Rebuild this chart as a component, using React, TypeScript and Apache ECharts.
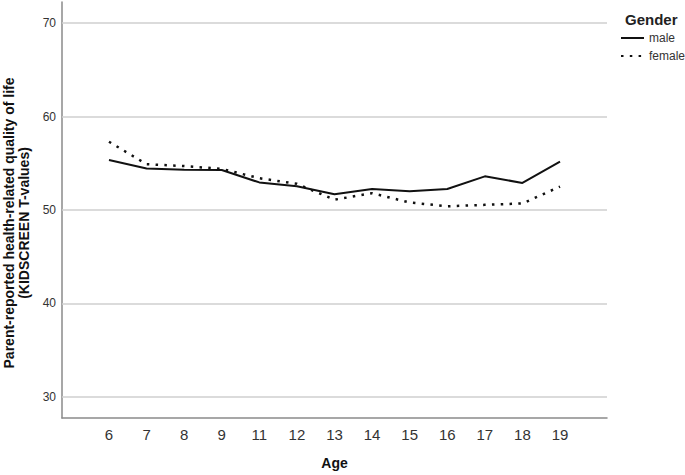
import React, { useEffect, useRef } from "react";
import * as echarts from "echarts";

const ages = ["6", "7", "8", "9", "11", "12", "13", "14", "15", "16", "17", "18", "19"];
const maleValues = [55.35, 54.45, 54.3, 54.28, 52.95, 52.55, 51.68, 52.25, 52.0, 52.25, 53.6, 52.9, 55.17];
const femaleValues = [57.3, 54.9, 54.7, 54.4, 53.4, 52.8, 51.1, 51.8, 50.8, 50.4, 50.55, 50.7, 52.5];
const yTicks = [30, 40, 50, 60, 70];

const FONT = "Liberation Sans, Arial, sans-serif";

export default function App() {
  const ref = useRef<HTMLDivElement>(null);
  useEffect(() => {
    if (!ref.current) return;
    const chart = echarts.init(ref.current, null, { renderer: "svg" });
    const toPts = (vals: number[]) => vals.map((v, i) => [i, v]);
    chart.setOption({
      animation: false,
      backgroundColor: "#ffffff",
      textStyle: { fontFamily: FONT },
      title: {
        text: "Gender",
        left: 620,
        top: 7,
        textStyle: { fontFamily: FONT, fontSize: 15, fontWeight: "bold", color: "#222" },
      },
      legend: {
        orient: "vertical",
        left: 615,
        top: 27,
        padding: 5,
        itemWidth: 23,
        itemHeight: 10,
        itemGap: 6,
        itemStyle: { opacity: 0, borderWidth: 0 },
        textStyle: { fontFamily: FONT, fontSize: 12, color: "#333" },
        data: ["male", "female"],
      },
      grid: { left: 62, right: 78, top: 2, bottom: 57, containLabel: false, outerBoundsMode: "none" },
      xAxis: {
        type: "value",
        min: -1.25,
        max: 13.25,
        interval: 0.25,
        name: "Age",
        nameLocation: "middle",
        nameGap: 38,
        nameTextStyle: { fontFamily: FONT, fontSize: 14, fontWeight: "bold", color: "#111" },
        axisLine: { show: true, onZero: false, lineStyle: { color: "#8a8a8a", width: 1.5 } },
        axisTick: { show: false },
        splitLine: { show: false },
        axisLabel: {
          fontFamily: FONT,
          fontSize: 15,
          color: "#333",
          margin: 9,
          showMinLabel: false,
          showMaxLabel: false,
          formatter: (v: number) => {
            const r = Math.round(v);
            if (Math.abs(v - r) < 1e-6 && r >= 0 && r < ages.length) return ages[r];
            return "";
          },
        },
      },
      yAxis: {
        type: "value",
        min: 27.75,
        max: 72.25,
        interval: 0.25,
        name: "Parent-reported health-related quality of life\n(KIDSCREEN T-values)",
        nameLocation: "middle",
        nameGap: 31,
        nameRotate: 90,
        nameTextStyle: {
          fontFamily: FONT,
          fontSize: 14,
          fontWeight: "bold",
          color: "#111",
          lineHeight: 15,
          padding: [0, 26, 0, 0],
        },
        axisLine: { show: true, onZero: false, lineStyle: { color: "#8a8a8a", width: 1.5 } },
        axisTick: { show: false },
        splitLine: { show: false },
        axisLabel: {
          fontFamily: FONT,
          fontSize: 12,
          color: "#333",
          margin: 6,
          showMinLabel: false,
          showMaxLabel: false,
          formatter: (v: number) => {
            const r = Math.round(v);
            if (Math.abs(v - r) < 1e-6 && yTicks.indexOf(r) >= 0) return String(r);
            return "";
          },
        },
      },
      series: [
        {
          name: "male",
          type: "line",
          data: toPts(maleValues),
          symbol: "none",
          lineStyle: { color: "#111", width: 2, type: "solid" },
          itemStyle: { color: "#111" },
          z: 3,
          markLine: {
            silent: true,
            symbol: "none",
            label: { show: false },
            lineStyle: { color: "#cfcfcf", width: 1.5, type: "solid" },
            data: yTicks.map((t) => ({ yAxis: t })),
            z: 1,
          },
        },
        {
          name: "female",
          type: "line",
          data: toPts(femaleValues),
          symbol: "none",
          lineStyle: { color: "#111", width: 2.5, type: [2.5, 6.3], cap: "butt" },
          itemStyle: { color: "#111" },
          z: 3,
        },
      ],
    });
    return () => chart.dispose();
  }, []);
  return <div ref={ref} style={{ width: 685, height: 475, position: "absolute", left: 0, top: 0 }} />;
}
